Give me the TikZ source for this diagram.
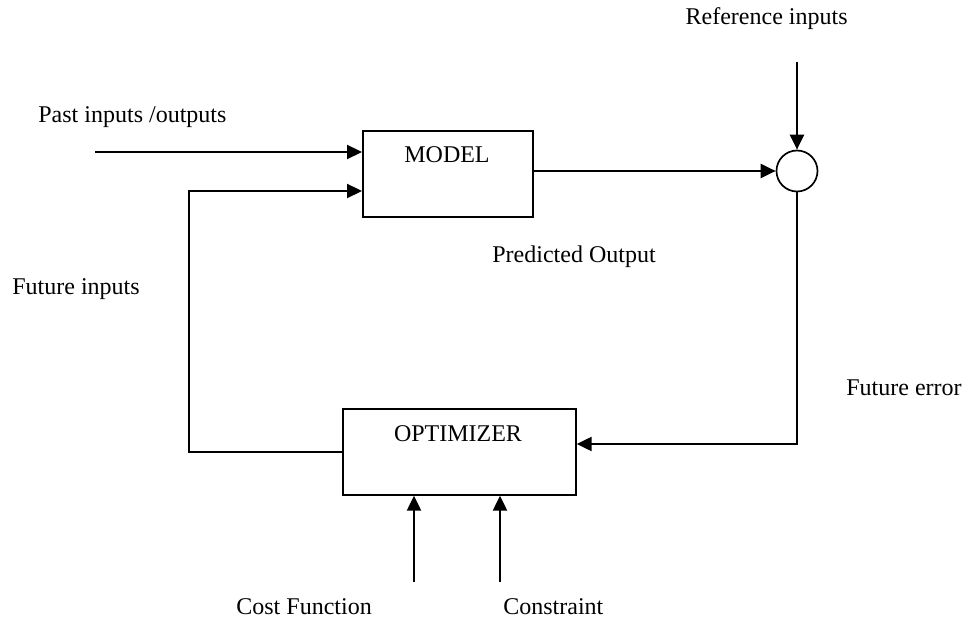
\documentclass[tikz,border=0pt]{standalone}
\usepackage{fontspec}
\setmainfont{Liberation Serif}
\usetikzlibrary{arrows.meta}
\begin{document}
\begin{tikzpicture}[x=0.5pt,y=-0.5pt,
  font=\fontsize{12}{14}\selectfont,
  blk/.style={draw, line width=0.85pt, inner sep=0pt, anchor=north west},
  flow/.style={line width=1.15pt, -{Triangle[length=7.5pt,width=7pt]}},
  lbl/.style={inner sep=0pt}]
\useasboundingbox (0,0) rectangle (965,620);

% blocks
\node[blk, minimum width=85pt, minimum height=43pt] (model) at (362,130) {};
\node[blk, minimum width=116.5pt, minimum height=43pt] (opt) at (342,408) {};
\node[draw, circle, line width=0.85pt, minimum size=20.5pt, inner sep=0pt] (sum) at (797,171) {};

% block titles
\node[lbl, anchor=base] (modeltxt) at (447,163) {MODEL};
\node[lbl, anchor=base] (opttxt) at (458,442) {OPTIMIZER};

% signal labels
\node[lbl, anchor=base east] (refl) at (848,25) {Reference inputs};
\node[lbl, anchor=base west] (pastl) at (38,123) {Past inputs /outputs};
\node[lbl, anchor=base west] (predl) at (492,263) {Predicted Output};
\node[lbl, anchor=base west] (futl) at (12,295) {Future inputs};
\node[lbl, anchor=base west] (errl) at (846,396) {Future error};
\node[lbl, anchor=base west] (costl) at (236,614) {Cost Function};
\node[lbl, anchor=base west] (consl) at (503,614) {Constraint};

% free ends and corners
\coordinate (pastin) at (95,152);
\coordinate (refin) at (797,62);
\coordinate (fbturn) at (189,452);
\coordinate (fbtop) at (189,191);
\coordinate (errturn) at (797,444);
\coordinate (costin) at (414,582);
\coordinate (consin) at (500,582);

% connectors
\draw[flow] (pastin) -- (pastin -| model.west);
\draw[flow] (opt.west |- fbturn) -- (fbturn) -- (fbtop) -- (fbtop -| model.west);
\draw[flow] (model.east |- sum.west) -- (sum.west);
\draw[flow] (refin) -- (sum.north);
\draw[flow] (sum.south) -- (errturn) -- (errturn -| opt.east);
\draw[flow] (costin) -- (costin |- opt.south);
\draw[flow] (consin) -- (consin |- opt.south);
\end{tikzpicture}
\end{document}
